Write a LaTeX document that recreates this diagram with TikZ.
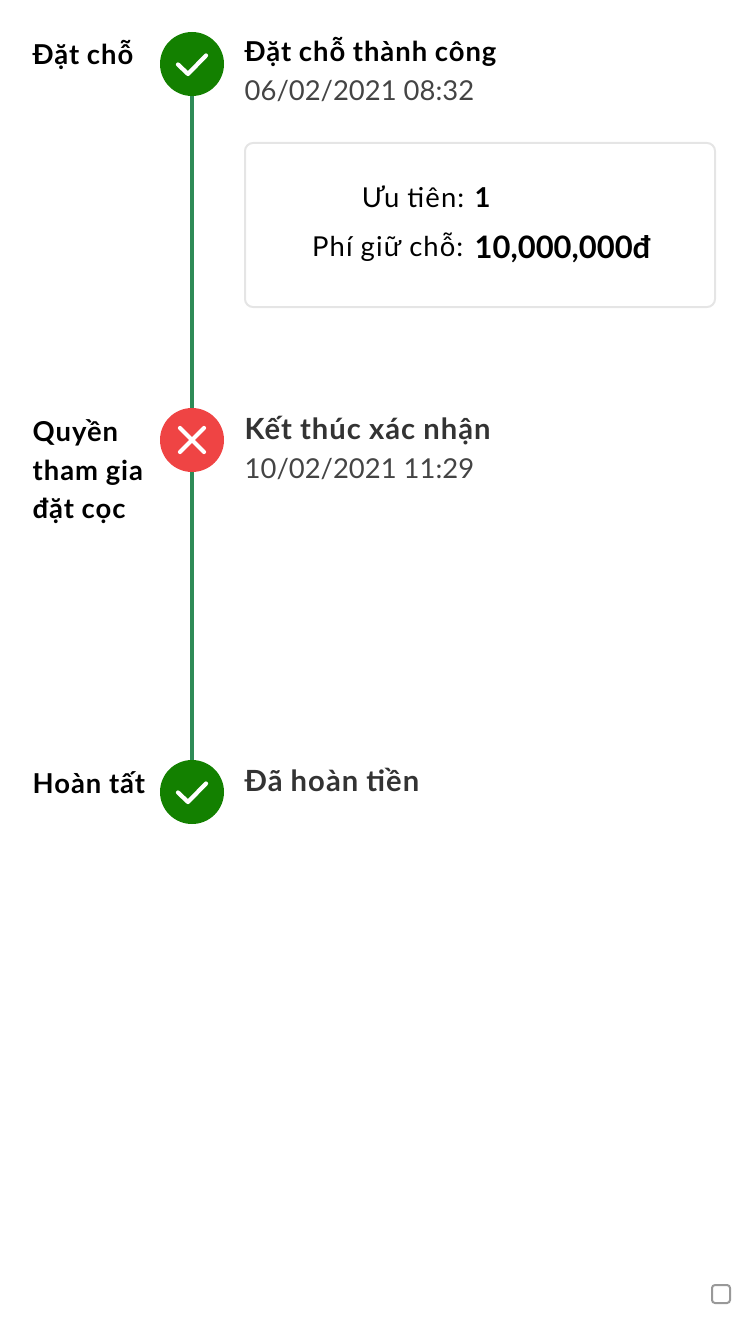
\documentclass[tikz,border=0pt]{standalone}
\usepackage{fontspec}
\setmainfont{Lato}[BoldFeatures={LetterSpace=3.5}]
\newfontface\keyface[LetterSpace=4]{Lato}
\newfontface\amountface{Lato Bold}
\definecolor{okgreen}{HTML}{138000}
\definecolor{failred}{HTML}{EF4444}
\definecolor{trackgreen}{HTML}{2E8B57}
\definecolor{cardgray}{HTML}{E5E5E5}
\definecolor{datetext}{HTML}{444444}
\definecolor{headtext}{HTML}{333333}
\begin{document}
\begin{tikzpicture}[
  stepdot/.style = {circle, minimum size = 0.64cm, inner sep = 0, outer sep = 0},
  sidelabel/.style = {anchor = base west, inner sep = 0, font = \fontsize{7.8}{9}\selectfont\bfseries},
  headlabel/.style = {sidelabel, text = headtext, font = \fontsize{8.3}{9}\selectfont\bfseries},
  datelabel/.style = {anchor = base west, inner sep = 0, text = datetext, font = \fontsize{7.8}{9}\selectfont},
  keylabel/.style = {anchor = base east, inner sep = 0, font = \fontsize{7.8}{9}\keyface},
  signline/.style = {white, line width = 1.2pt, line cap = round, line join = round}
]
\useasboundingbox (0, 0) rectangle (7.5, -13.34);
\node[stepdot, fill = okgreen] (placed) at (1.92, -0.64) {};
\node[stepdot, fill = failred] (rights) at (1.92, -4.40) {};
\node[stepdot, fill = okgreen] (finished) at (1.92, -7.92) {};
\draw[trackgreen, line width = 1.14pt] (placed) -- (rights);
\draw[trackgreen, line width = 1.14pt] (rights) -- (finished);
\draw[signline] (1.78, -0.645) -- (1.88, -0.74) -- (2.06, -0.555);
\draw[signline] (1.80, -4.28) -- (2.04, -4.52) (2.04, -4.28) -- (1.80, -4.52);
\draw[signline] (1.78, -7.925) -- (1.88, -8.02) -- (2.06, -7.835);
\node[sidelabel] (placedname) at (0.32, -0.65) {Đặt chỗ};
\node[sidelabel] (rightsa) at (0.32, -4.41) {Quyền};
\node[sidelabel] (rightsb) at (0.32, -4.80) {tham gia};
\node[sidelabel] (rightsc) at (0.32, -5.18) {đặt cọc};
\node[sidelabel] (finishedname) at (0.32, -7.93) {Hoàn tất};
\node[sidelabel] (placedhead) at (2.44, -0.62) {Đặt chỗ thành công};
\node[datelabel] (placeddate) at (2.44, -1.01) {06/02/2021 08:32};
\node[headlabel] (rightshead) at (2.44, -4.39) {Kết thúc xác nhận};
\node[datelabel] (rightsdate) at (2.44, -4.78) {10/02/2021 11:29};
\node[headlabel] (finishedhead) at (2.44, -7.91) {Đã hoàn tiền};
\draw[cardgray, line width = 0.57pt, rounded corners = 0.08cm] (2.45, -1.43) rectangle (7.15, -3.07);
\node[keylabel] (prioritykey) at (4.65, -2.07) {Ưu tiên:};
\node[sidelabel] (priorityval) at (4.74, -2.07) {1};
\node[keylabel] (feekey) at (4.64, -2.56) {Phí giữ chỗ:};
\node[sidelabel, font = \fontsize{8.8}{9}\amountface] (feeval) at (4.74, -2.58) {10,000,000đ};
\draw[gray!80, line width = 0.57pt, rounded corners = 0.03cm] (7.12, -12.85) rectangle (7.30, -13.03);
\end{tikzpicture}
\end{document}
